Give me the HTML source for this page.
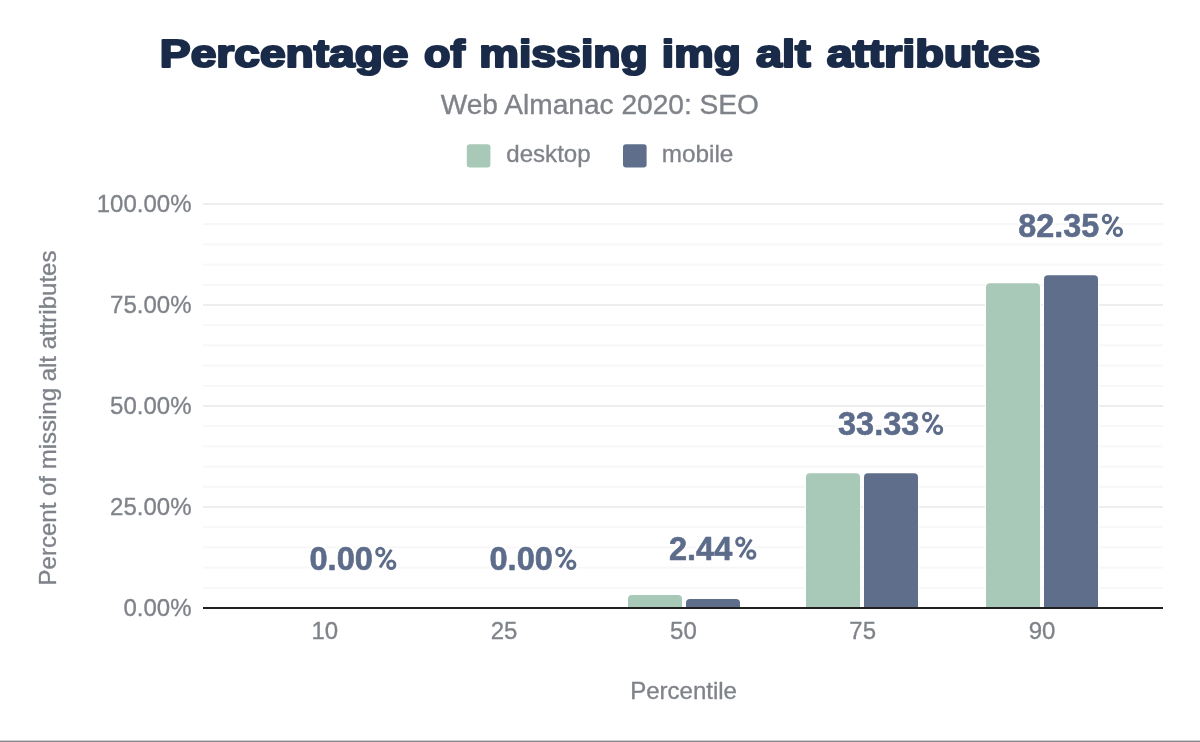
<!DOCTYPE html>
<html><head><meta charset="utf-8"><title>Percentage of missing img alt attributes</title>
<style>
html,body{margin:0;padding:0;background:#fff;}
body{width:1200px;height:742px;overflow:hidden;font-family:"Liberation Sans",sans-serif;}
svg{display:block;will-change:transform;}
text{font-family:"Liberation Sans",sans-serif;}
.ax{font-size:24px;fill:#7f8389;stroke:#7f8389;stroke-width:0.32px;}
.dlh{font-size:34px;font-weight:bold;fill:#fff;stroke:#fff;stroke-width:5.4px;stroke-linejoin:round;}
.dl{font-size:34px;font-weight:bold;fill:#5c6c8a;stroke:#5c6c8a;stroke-width:0.6px;stroke-linejoin:round;}
.pch{stroke-width:7.9px;} .pcf{stroke-width:2.9px;} .pcf .sl{stroke-width:2.5px;}
.title{font-size:38.5px;font-weight:bold;fill:#1a2b49;stroke:#1a2b49;stroke-width:2.2px;stroke-linejoin:round;}
.sub{font-size:28px;fill:#7f8389;stroke:#7f8389;stroke-width:0.36px;}
.lg{font-size:24px;fill:#7f8389;stroke:#7f8389;stroke-width:0.32px;}
</style></head>
<body>
<svg width="1200" height="742" viewBox="0 0 1200 742">
<defs><g id="pc" fill="none"><ellipse cx="5.4" cy="-18.1" rx="3.65" ry="3.8"/><ellipse cx="16.4" cy="-5.3" rx="3.65" ry="3.8"/><line x1="16.5" y1="-20.3" x2="5.1" y2="-2.5" class="sl"/></g></defs>
<rect x="0" y="0" width="1200" height="742" fill="#ffffff"/>
<text x="159.88" y="66.9" class="title" textLength="248.65" lengthAdjust="spacingAndGlyphs">Percentage</text>
<text x="424.11" y="66.9" class="title" textLength="40.84" lengthAdjust="spacingAndGlyphs">of</text>
<text x="479.23" y="66.9" class="title" textLength="168.58" lengthAdjust="spacingAndGlyphs">missing</text>
<text x="661.86" y="66.9" class="title" textLength="78.9" lengthAdjust="spacingAndGlyphs">img</text>
<text x="755.9" y="66.9" class="title" textLength="54.59" lengthAdjust="spacingAndGlyphs">alt</text>
<text x="826.68" y="66.9" class="title" textLength="213.57" lengthAdjust="spacingAndGlyphs">attributes</text>
<text x="440.66" y="113.6" class="sub" textLength="318.29" lengthAdjust="spacingAndGlyphs">Web Almanac 2020: SEO</text>
<rect x="466.8" y="144.2" width="23.6" height="23.4" rx="3" fill="#a8c9b8"/>
<text x="506.33" y="162.4" class="lg" textLength="84.28" lengthAdjust="spacingAndGlyphs">desktop</text>
<rect x="623" y="144.2" width="23.6" height="23.4" rx="3" fill="#5f6f8b"/>
<text x="661.78" y="162.4" class="lg" textLength="71.62" lengthAdjust="spacingAndGlyphs">mobile</text>
<rect x="203" y="586.80" width="960" height="2" fill="#f7f7f7"/>
<rect x="203" y="566.60" width="960" height="2" fill="#f7f7f7"/>
<rect x="203" y="546.40" width="960" height="2" fill="#f7f7f7"/>
<rect x="203" y="526.20" width="960" height="2" fill="#f7f7f7"/>
<rect x="203" y="506.00" width="960" height="2" fill="#eeeeee"/>
<rect x="203" y="485.80" width="960" height="2" fill="#f7f7f7"/>
<rect x="203" y="465.60" width="960" height="2" fill="#f7f7f7"/>
<rect x="203" y="445.40" width="960" height="2" fill="#f7f7f7"/>
<rect x="203" y="425.20" width="960" height="2" fill="#f7f7f7"/>
<rect x="203" y="405.00" width="960" height="2" fill="#eeeeee"/>
<rect x="203" y="384.80" width="960" height="2" fill="#f7f7f7"/>
<rect x="203" y="364.60" width="960" height="2" fill="#f7f7f7"/>
<rect x="203" y="344.40" width="960" height="2" fill="#f7f7f7"/>
<rect x="203" y="324.20" width="960" height="2" fill="#f7f7f7"/>
<rect x="203" y="304.00" width="960" height="2" fill="#eeeeee"/>
<rect x="203" y="283.80" width="960" height="2" fill="#f7f7f7"/>
<rect x="203" y="263.60" width="960" height="2" fill="#f7f7f7"/>
<rect x="203" y="243.40" width="960" height="2" fill="#f7f7f7"/>
<rect x="203" y="223.20" width="960" height="2" fill="#f7f7f7"/>
<rect x="203" y="203.00" width="960" height="2" fill="#eeeeee"/>
<text x="191.5" y="212.20" text-anchor="end" class="ax">100.00%</text>
<text x="191.5" y="313.20" text-anchor="end" class="ax">75.00%</text>
<text x="191.5" y="414.20" text-anchor="end" class="ax">50.00%</text>
<text x="191.5" y="515.20" text-anchor="end" class="ax">25.00%</text>
<text x="191.5" y="616.20" text-anchor="end" class="ax">0.00%</text>
<text x="309.49" y="570" class="dlh" textLength="63.39" lengthAdjust="spacingAndGlyphs">0.00</text>
<use href="#pc" x="374.9" y="570" stroke="#fff" class="pch"/><use href="#pc" x="374.9" y="570" stroke="#5c6c8a" class="pcf"/>
<text x="489.49" y="570" class="dlh" textLength="63.39" lengthAdjust="spacingAndGlyphs">0.00</text>
<use href="#pc" x="554.9" y="570" stroke="#fff" class="pch"/><use href="#pc" x="554.9" y="570" stroke="#5c6c8a" class="pcf"/>
<text x="669.01" y="559.8" class="dlh" textLength="63.25" lengthAdjust="spacingAndGlyphs">2.44</text>
<use href="#pc" x="734.9" y="559.8" stroke="#fff" class="pch"/><use href="#pc" x="734.9" y="559.8" stroke="#5c6c8a" class="pcf"/>
<text x="838.05" y="435" class="dlh" textLength="81.22" lengthAdjust="spacingAndGlyphs">33.33</text>
<use href="#pc" x="921.7" y="435" stroke="#fff" class="pch"/><use href="#pc" x="921.7" y="435" stroke="#5c6c8a" class="pcf"/>
<text x="1018.25" y="237" class="dlh" textLength="80.87" lengthAdjust="spacingAndGlyphs">82.35</text>
<use href="#pc" x="1101.5" y="237" stroke="#fff" class="pch"/><use href="#pc" x="1101.5" y="237" stroke="#5c6c8a" class="pcf"/>
<text x="309.49" y="570" class="dl" textLength="63.39" lengthAdjust="spacingAndGlyphs">0.00</text>
<text x="489.49" y="570" class="dl" textLength="63.39" lengthAdjust="spacingAndGlyphs">0.00</text>
<text x="669.01" y="559.8" class="dl" textLength="63.25" lengthAdjust="spacingAndGlyphs">2.44</text>
<text x="838.05" y="435" class="dl" textLength="81.22" lengthAdjust="spacingAndGlyphs">33.33</text>
<text x="1018.25" y="237" class="dl" textLength="80.87" lengthAdjust="spacingAndGlyphs">82.35</text>
<path d="M627,608.0 V599 Q627,594 632,594 H678 Q683,594 683,599 V608.0 Z" fill="#fff"/><path d="M628,608.0 V599 Q628,595 632,595 H678 Q682,595 682,599 V608.0 Z" fill="#a8c9b8"/>
<path d="M685,608.0 V603 Q685,598 690,598 H736 Q741,598 741,603 V608.0 Z" fill="#fff"/><path d="M686,608.0 V603 Q686,599 690,599 H736 Q740,599 740,603 V608.0 Z" fill="#5f6f8b"/>
<path d="M805,608.0 V477.3 Q805,472.3 810,472.3 H856 Q861,472.3 861,477.3 V608.0 Z" fill="#fff"/><path d="M806,608.0 V477.3 Q806,473.3 810,473.3 H856 Q860,473.3 860,477.3 V608.0 Z" fill="#a8c9b8"/>
<path d="M863,608.0 V477.3 Q863,472.3 868,472.3 H914 Q919,472.3 919,477.3 V608.0 Z" fill="#fff"/><path d="M864,608.0 V477.3 Q864,473.3 868,473.3 H914 Q918,473.3 918,477.3 V608.0 Z" fill="#5f6f8b"/>
<path d="M985,608.0 V287.2 Q985,282.2 990,282.2 H1036 Q1041,282.2 1041,287.2 V608.0 Z" fill="#fff"/><path d="M986,608.0 V287.2 Q986,283.2 990,283.2 H1036 Q1040,283.2 1040,287.2 V608.0 Z" fill="#a8c9b8"/>
<path d="M1043,608.0 V279.3 Q1043,274.3 1048,274.3 H1094 Q1099,274.3 1099,279.3 V608.0 Z" fill="#fff"/><path d="M1044,608.0 V279.3 Q1044,275.3 1048,275.3 H1094 Q1098,275.3 1098,279.3 V608.0 Z" fill="#5f6f8b"/>
<rect x="203" y="607" width="960" height="2" fill="#212121"/>
<text x="324.8" y="639" text-anchor="middle" class="ax">10</text>
<text x="504.1" y="639" text-anchor="middle" class="ax">25</text>
<text x="683.4" y="639" text-anchor="middle" class="ax">50</text>
<text x="862.7" y="639" text-anchor="middle" class="ax">75</text>
<text x="1042" y="639" text-anchor="middle" class="ax">90</text>
<text x="683.6" y="698.5" text-anchor="middle" class="ax">Percentile</text>
<text transform="translate(56,418) rotate(-90)" text-anchor="middle" class="ax">Percent of missing alt attributes</text>
<rect x="0" y="740.6" width="1200" height="1.4" fill="#87878b"/>
</svg>
</body></html>
